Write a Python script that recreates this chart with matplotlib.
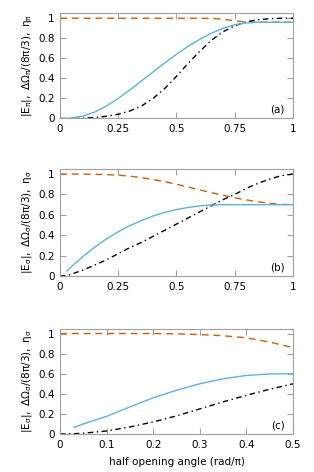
import matplotlib
matplotlib.use("Agg")
import matplotlib.pyplot as plt
import numpy as np

plt.rcParams['font.family'] = ['DejaVu Sans']
plt.rcParams['mathtext.fontset'] = 'dejavusans'

# Panel (a)
a_x = [0.0, 0.03, 0.05, 0.1, 0.15, 0.2, 0.25, 0.3, 0.35, 0.4, 0.45, 0.5, 0.55, 0.6, 0.65, 0.7, 0.75, 0.8, 0.85, 0.9, 0.95, 1.0]
a_blue = [None, 0.0, 0.005, 0.025, 0.065, 0.125, 0.2, 0.285, 0.375, 0.465, 0.555, 0.64, 0.72, 0.79, 0.85, 0.9, 0.935, 0.953, 0.96, 0.96, 0.96, 0.96]
a_black = [0.0, 0.0, 0.0, 0.003, 0.01, 0.022, 0.042, 0.075, 0.125, 0.2, 0.3, 0.42, 0.55, 0.67, 0.78, 0.865, 0.925, 0.965, 0.985, 0.995, 1.0, 1.0]
a_orange = [1.0, 1.0, 1.0, 1.0, 1.0, 1.0, 1.0, 1.0, 1.0, 1.0, 1.0, 1.0, 1.0, 1.0, 0.998, 0.99, 0.975, 0.962, 0.96, 0.96, 0.96, 0.96]

# Panel (b)
b_x = [0.0, 0.03, 0.05, 0.1, 0.15, 0.2, 0.25, 0.3, 0.35, 0.4, 0.45, 0.5, 0.55, 0.6, 0.65, 0.7, 0.75, 0.8, 0.85, 0.9, 0.95, 1.0]
b_blue = [None, 0.05, 0.095, 0.195, 0.285, 0.365, 0.435, 0.495, 0.545, 0.59, 0.625, 0.652, 0.673, 0.688, 0.697, 0.7, 0.7, 0.7, 0.7, 0.7, 0.7, 0.7]
b_black = [0.0, 0.005, 0.02, 0.06, 0.11, 0.16, 0.22, 0.28, 0.33, 0.39, 0.45, 0.51, 0.57, 0.63, 0.69, 0.75, 0.8, 0.86, 0.91, 0.95, 0.985, 1.0]
b_orange = [1.0, 1.0, 1.0, 1.0, 0.998, 0.995, 0.99, 0.98, 0.965, 0.947, 0.925, 0.9, 0.873, 0.845, 0.818, 0.792, 0.768, 0.747, 0.728, 0.713, 0.703, 0.7]

# Panel (c)
c_x = [0.0, 0.03, 0.05, 0.1, 0.15, 0.2, 0.25, 0.3, 0.35, 0.4, 0.45, 0.5]
c_blue = [None, 0.065, 0.1, 0.175, 0.27, 0.36, 0.435, 0.5, 0.55, 0.583, 0.598, 0.6]
c_black = [0.0, 0.003, 0.008, 0.03, 0.07, 0.12, 0.18, 0.25, 0.32, 0.385, 0.445, 0.5]
c_orange = [1.0, 1.0, 1.0, 1.0, 1.0, 1.0, 0.997, 0.99, 0.978, 0.958, 0.915, 0.86]

ylabels = [r'$\mathregular{|E_{\pi}|,\ \Delta\Omega_{\pi}/(8\pi/3),\ \eta_{\pi}}$',
           r'$\mathregular{|E_{\sigma}|,\ \Delta\Omega_{\sigma}/(8\pi/3),\ \eta_{\sigma}}$',
           r'$\mathregular{|E_{\sigma}|,\ \Delta\Omega_{\sigma}/(8\pi/3),\ \eta_{\sigma}}$']
panel_tags = ['(a)', '(b)', '(c)']
xticks_ab = [0, 0.25, 0.5, 0.75, 1]
xticklabels_ab = ['0', '0.25', '0.5', '0.75', '1']
xticks_c = [0, 0.1, 0.2, 0.3, 0.4, 0.5]
xticklabels_c = ['0', '0.1', '0.2', '0.3', '0.4', '0.5']
yticks = [0, 0.2, 0.4, 0.6, 0.8, 1]
yticklabels = ['0', '0.2', '0.4', '0.6', '0.8', '1']

BLUE = '#56b4e9'
ORANGE = '#d55e00'
GRAY = '#a0a0a0'

fig = plt.figure(figsize=(3.14, 4.72), dpi=100)
boxes = [(0.191, 0.749, 0.742, 0.223),
         (0.191, 0.415, 0.742, 0.227),
         (0.191, 0.0805, 0.742, 0.2235)]

data = [(a_x, a_blue, a_black, a_orange, xticks_ab, xticklabels_ab, 1.0),
        (b_x, b_blue, b_black, b_orange, xticks_ab, xticklabels_ab, 1.0),
        (c_x, c_blue, c_black, c_orange, xticks_c, xticklabels_c, 0.5)]

for i, (box, d) in enumerate(zip(boxes, data)):
    x, blue, black, orange, xt, xtl, xmax = d
    ax = fig.add_axes(box)
    xb = [xx for xx, yy in zip(x, blue) if yy is not None]
    yb = [yy for yy in blue if yy is not None]
    ax.plot(x, orange, color=ORANGE, lw=1.0, dashes=(5, 3.5))
    ax.plot(x, black, color='black', lw=1.0, dashes=(4, 2.5, 1, 2.5))
    ax.plot(xb, yb, color=BLUE, lw=1.0)
    ax.set_xlim(0, xmax)
    ax.set_ylim(0, 1.05)
    ax.set_xticks(xt)
    ax.set_xticklabels(xtl)
    ax.set_yticks(yticks)
    ax.set_yticklabels(yticklabels)
    for s in ax.spines.values():
        s.set_color(GRAY)
        s.set_linewidth(0.8)
    ax.tick_params(direction='in', top=True, right=True, length=4, width=0.8,
                   color=GRAY, labelsize=7.5, labelcolor='black', pad=4)
    ax.set_ylabel(ylabels[i], fontsize=7.5, labelpad=3)
    ax.text(0.965, 0.085, panel_tags[i], transform=ax.transAxes, ha='right',
            va='center', fontsize=7.5)
    if i == 2:
        ax.set_xlabel('half opening angle (rad/π)', fontsize=7.5, labelpad=5)

fig.savefig('out.png', dpi=100)
